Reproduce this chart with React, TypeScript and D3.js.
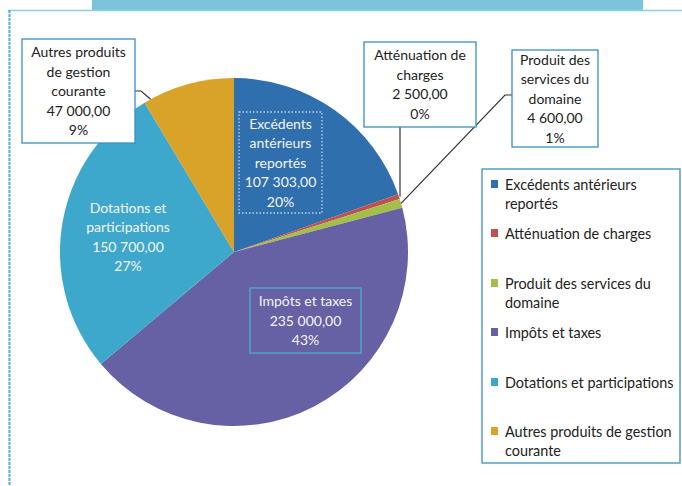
import React from "react";
import * as d3 from "d3";

const categories = [
  "Excédents antérieurs reportés",
  "Atténuation de charges",
  "Produit des services du domaine",
  "Impôts et taxes",
  "Dotations et participations",
  "Autres produits de gestion courante",
];
const values = [107303, 2500, 4600, 235000, 150700, 47000];
const valueLabels = ["107 303,00", "2 500,00", "4 600,00", "235 000,00", "150 700,00", "47 000,00"];
const percentLabels = ["20%", "0%", "1%", "43%", "27%", "9%"];
const labelNameLines = [
  ["Excédents", "antérieurs", "reportés"],
  ["Atténuation de", "charges"],
  ["Produit des", "services du", "domaine"],
  ["Impôts et taxes"],
  ["Dotations et", "participations"],
  ["Autres produits", "de gestion", "courante"],
];
const legendLines = [
  ["Excédents antérieurs", "reportés"],
  ["Atténuation de charges"],
  ["Produit des services du", "domaine"],
  ["Impôts et taxes"],
  ["Dotations et participations"],
  ["Autres produits de gestion", "courante"],
];

const colors = ["#2f6fae", "#c0504d", "#a3bf4a", "#6660a4", "#3ea8cc", "#d9a228"];

const W = 682;
const H = 486;
const CX = 234;
const CY = 252;
const R = 174;
const FONT = "Lato, 'Open Sans', sans-serif";
const LH = 19.5;

// label layout: box rect (x, y, w, h), inside flag, box style
const labelLayout = [
  { x: 239, y: 112, w: 83, h: 101, inside: true, stroke: "#b9dbe8", dash: "1.5,2" },
  { x: 364, y: 42, w: 112, h: 85, inside: false, stroke: "#3a8fc0", dash: "" },
  { x: 512, y: 50, w: 86, h: 97, inside: false, stroke: "#3a8fc0", dash: "" },
  { x: 250, y: 288, w: 111, h: 65, inside: true, stroke: "#4ab0d0", dash: "" },
  { x: 80, y: 195, w: 96, h: 84, inside: true, stroke: "none", dash: "" },
  { x: 22, y: 39, w: 113, h: 104, inside: false, stroke: "#3a8fc0", dash: "" },
];

export default function App() {
  const pie = d3.pie<number>().sort(null).value((d) => d);
  const arcs = pie(values);
  const arcGen = d3.arc<d3.PieArcDatum<number>>().innerRadius(0).outerRadius(R);
  const edgeAt = (a: number) => [CX + R * Math.sin(a), CY - R * Math.cos(a)];
  const mid = (i: number) => (arcs[i].startAngle + arcs[i].endAngle) / 2;

  // leaders
  const e1 = edgeAt(mid(1));
  const e2 = edgeAt(mid(2));
  const e5 = edgeAt(arcs[5].startAngle + 0.04);
  const l1 = labelLayout[1];
  const l2 = labelLayout[2];
  const l5 = labelLayout[5];
  const leaders = [
    `M${l1.x + 36},${l1.y + l1.h} L${l1.x + 36},${e1[1]}`,
    `M${l2.x},${l2.y + 45} L${l2.x - 7},${l2.y + 45} L${e2[0]},${e2[1]}`,
    `M${l5.x + l5.w},${l5.y + 52} L${l5.x + l5.w + 6},${l5.y + 52} L${e5[0]},${e5[1]}`,
  ];

  const legendX = 482;
  const legendY = 169;
  const legendItemY = [185, 234, 284, 333, 383, 432];

  return (
    <svg width={W} height={H} style={{ position: "absolute", left: 0, top: 0, background: "#fff" }}>
      {/* frame */}
      <rect x={92} y={0} width={551} height={10} fill="#7cc4dc" />
      <line x1={8} y1={10.5} x2={W} y2={10.5} stroke="#8fcde2" strokeWidth={1.5} />
      <line x1={9.5} y1={10} x2={9.5} y2={H} stroke="#4ab0d8" strokeWidth={2} strokeDasharray="3,1" />

      {/* pie */}
      <g transform={`translate(${CX},${CY})`}>
        {arcs.map((a, i) => (
          <path key={i} d={arcGen(a) || ""} fill={colors[i]} />
        ))}
      </g>

      {/* leaders */}
      {leaders.map((d, i) => (
        <path key={i} d={d} fill="none" stroke="#333" strokeWidth={1.2} />
      ))}

      {/* data labels */}
      {labelLayout.map((l, i) => {
        const lines = [...labelNameLines[i], valueLabels[i], percentLabels[i]];
        const cx = l.x + l.w / 2;
        const total = lines.length * LH;
        const top = l.y + l.h / 2 - total / 2;
        return (
          <g key={i}>
            {l.stroke !== "none" && (
              <rect
                x={l.x}
                y={l.y}
                width={l.w}
                height={l.h}
                fill={l.inside ? "none" : "#fff"}
                stroke={l.stroke}
                strokeWidth={1.3}
                strokeDasharray={l.dash || undefined}
              />
            )}
            {lines.map((t, j) => (
              <text
                key={j}
                x={cx}
                y={top + LH * j + LH / 2 + 5}
                textAnchor="middle"
                fontFamily={FONT}
                fontSize={14}
                fill={l.inside ? "#f4f4f4" : "#222"}
              >
                {t}
              </text>
            ))}
          </g>
        );
      })}

      {/* legend */}
      <rect x={legendX} y={legendY} width={198} height={294} fill="#fff" stroke="#3a8fc0" strokeWidth={1.3} />
      {categories.map((c, i) => (
        <g key={c}>
          <rect x={491} y={legendItemY[i] - 5} width={7} height={8} fill={colors[i]} />
          {legendLines[i].map((t, j) => (
            <text key={j} x={505} y={legendItemY[i] + 5 + j * 19} fontFamily={FONT} fontSize={14.4} fill="#222">
              {t}
            </text>
          ))}
        </g>
      ))}
    </svg>
  );
}
